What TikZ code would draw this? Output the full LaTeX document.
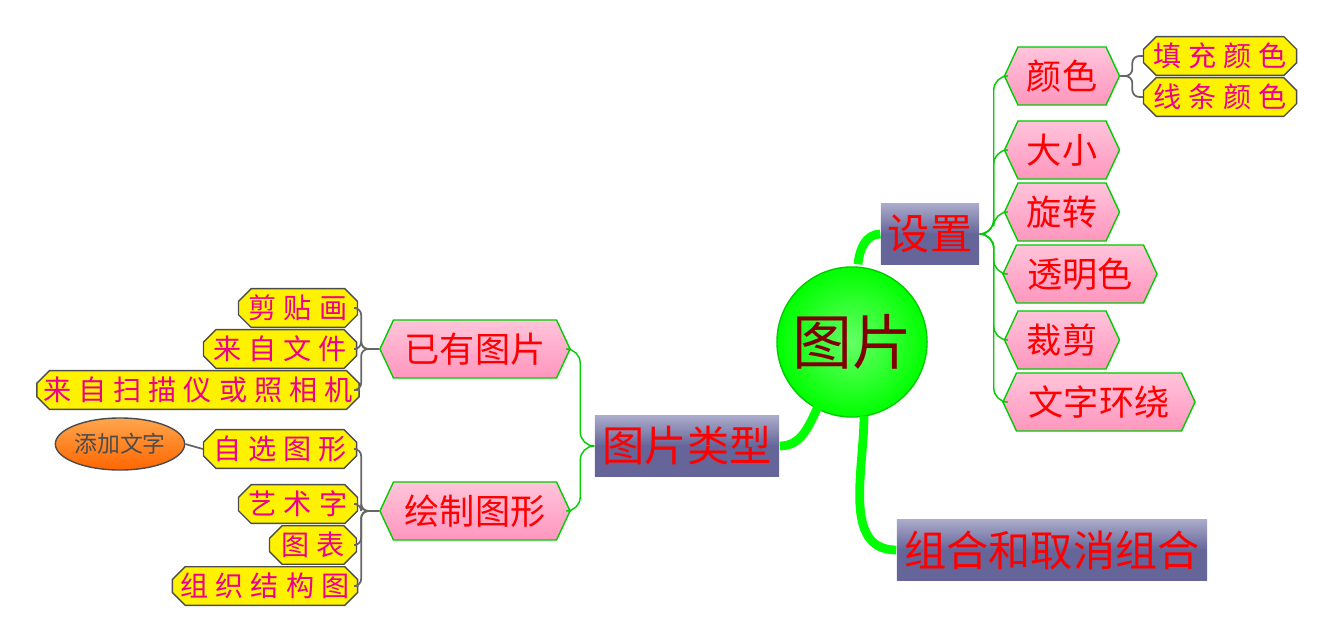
\documentclass[tikz,border=0pt]{standalone}
\usepackage{fontspec}
\setmainfont{Noto Sans CJK SC}
\newfontfamily\yellowfont[LetterSpace=25]{Noto Sans CJK SC}
\usetikzlibrary{positioning, shapes.misc, shapes.symbols, shapes.geometric}
\definecolor{pinktop}{HTML}{FFC4DA}
\definecolor{pinkbot}{HTML}{FF96BE}
\definecolor{slatetop}{HTML}{ABABCB}
\definecolor{slatebot}{HTML}{65659A}
\begin{document}
\begin{tikzpicture}[
		x=0.01cm, y=-0.01cm,
		hub/.style={
			circle, draw=green!80!black, minimum size=1.5cm, inner sep=0pt,
			inner color=green!60, outer color=green, font=\fontsize{17}{17}\selectfont, text=red!50!black
		},
		branch/.style={
			align=center, inner sep=0pt, minimum height=0.61cm, top color=slatetop, bottom color=slatebot,
			middle color=slatebot, font=\fontsize{12}{12}\selectfont, text=red
		},
		leaf/.style={
			signal, signal to=east and west, signal pointer angle=130, draw=green!80!black, inner sep=0pt,
			minimum height=0.58cm, top color=pinktop, bottom color=pinkbot, text=red,
			font=\fontsize{10}{10}\selectfont
		},
		twig/.style={
			chamfered rectangle, chamfered rectangle sep=1.8pt, draw=black!70, fill=yellow, inner sep=0pt,
			minimum height=0.35cm, text=magenta, font=\yellowfont\fontsize{8}{8}\selectfont
		},
		note/.style={
			ellipse, draw=black!70, top color=orange!70, bottom color=orange!80!red, inner sep=0pt,
			minimum width=1.26cm, minimum height=0.52cm, font=\fontsize{6.5}{6.5}\selectfont, text=black!70
		},
		thick link/.style={green, line width=2.5pt},
		thin link/.style={green!80!black, line width=0.4pt, rounded corners=4pt},
		gray link/.style={black!60, line width=0.5pt, rounded corners=2pt},
		]
		\useasboundingbox (0,0) rectangle (1336,642);
		% Centre
		\node [hub] (pic) at (852,342) {图片};
		
		% Main branches
		\node [branch, minimum width=0.98cm] (set) at (930,234) {设置};
		\node [branch, minimum width=1.84cm] (kind) at (687,446) {图片类型};
		\node [branch, minimum width=3.1cm] (group) at (1052,550) {组合和取消组合};
		
		% Settings
		\node [leaf, minimum width=1.15cm] (color) at (1062,76) {颜色};
		\node [leaf, minimum width=1.15cm] (size) at (1062,150) {大小};
		\node [leaf, minimum width=1.15cm] (rotate) at (1062,212) {旋转};
		\node [leaf, minimum width=1.54cm] (transp) at (1080,274) {透明色};
		\node [leaf, minimum width=1.15cm] (crop) at (1062,340) {裁剪};
		\node [leaf, minimum width=1.92cm] (wrap) at (1099,402) {文字环绕};
		\node [twig, minimum width=1.53cm] (fill) at (1220,56) {填充颜色};
		\node [twig, minimum width=1.53cm] (line) at (1220,97) {线条颜色};
		
		% Picture kinds
		\node [leaf, minimum width=1.9cm] (have) at (475,349) {已有图片};
		\node [leaf, minimum width=1.9cm] (draw) at (475,511) {绘制图形};
		\node [twig, minimum width=1.19cm] (clip) at (298,308) {剪贴画};
		\node [twig, minimum width=1.53cm] (file) at (280,349) {来自文件};
		\node [twig, minimum width=3.18cm] (scan) at (198,390) {来自扫描仪或照相机};
		\node [twig, minimum width=1.53cm] (shape) at (280,449) {自选图形};
		\node [twig, minimum width=1.19cm] (art) at (298,504) {艺术字};
		\node [twig, minimum width=0.87cm] (chart) at (313,545) {图表};
		\node [twig, minimum width=1.85cm] (org) at (265,586) {组织结构图};
		\node [note] (text) at (120,444) {添加文字};
		
		% Links from the centre
		\draw [thick link] (pic.north) ++(6,-2) to[out=85,in=180] (set.west);
		\draw [thick link] (pic.south west) ++(20,10) to[out=245,in=0] (kind.east);
		\draw [thick link] (pic.south) ++(12,-2) to[out=270,in=180] (group.west);
		
		% Links of the settings
		\foreach \n in {color, size, rotate, transp, crop, wrap}
			\draw [thin link] (set.east) -- ++(14,0) |- (\n.west);
		\foreach \n in {fill, line}
			\draw [gray link] (color.east) -- ++(12,0) |- (\n.west);
		
		% Links of the kinds
		\foreach \n in {have, draw}
			\draw [thin link] (kind.west) -- ++(-14,0) |- (\n.east);
		\foreach \n in {clip, file, scan}
			\draw [gray link] (have.west) -- ++(-18,0) |- (\n.east);
		\foreach \n in {shape, art, chart, org}
			\draw [gray link] (draw.west) -- ++(-18,0) |- (\n.east);
		\draw [gray link] (shape.west) -- (text.east);
		
	\end{tikzpicture}
\end{document}
